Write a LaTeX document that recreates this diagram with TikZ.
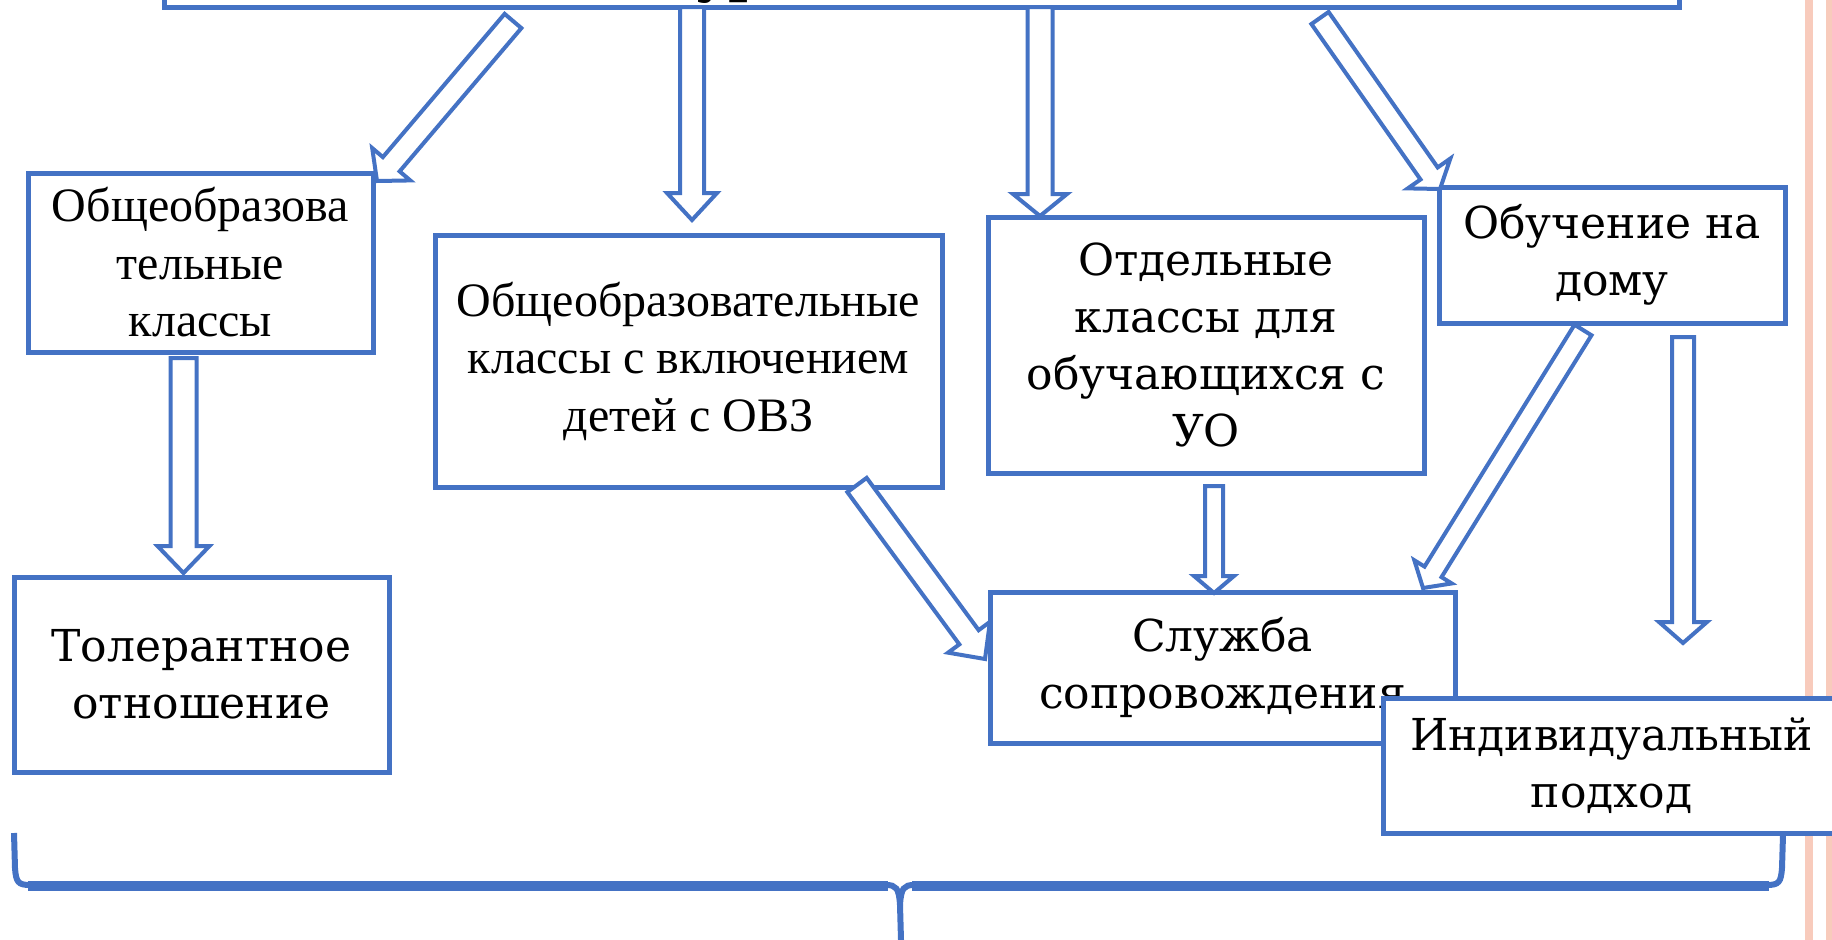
\documentclass[tikz,border=0pt]{standalone}
\usepackage{fontspec}
\setmainfont{DejaVu Serif}
\newfontfamily\timesf{Liberation Serif}
\usetikzlibrary{calc}
\definecolor{bblue}{HTML}{4472C4}
\definecolor{pinkst}{RGB}{248,203,188}
\tikzset{
  box/.style={draw=bblue, line width=5pt, fill=white, align=center, inner sep=0pt},
  arrowline/.style={draw=bblue, line width=4pt, fill=white, line join=miter},
  schtext/.style={font=\fontsize{44}{57}\selectfont},
  timestext/.style={font=\timesf\fontsize{48}{57.5}\selectfont},
  bracestyle/.style={draw=bblue, line width=6pt}
}
% #1 tail, #2 tip, #3 shaft half width, #4 head half width, #5 head length
\newcommand{\blockarr}[5]{%
  \coordinate (ba-h) at ($(#2)!#5!(#1)$);
  \draw[arrowline] ($(#1)!#3!90:(#2)$) -- ($(ba-h)!#3!-90:(#1)$) -- ($(ba-h)!#4!-90:(#1)$) -- (#2)
     -- ($(ba-h)!#4!90:(#1)$) -- ($(ba-h)!#3!90:(#1)$) -- ($(#1)!#3!-90:(#2)$) -- cycle;
}
\begin{document}
\begin{tikzpicture}[x=1pt,y=-1pt]
\useasboundingbox (0,0) rectangle (1832,940);
\clip (0,0) rectangle (1832,940);
% decorative stripes
\fill[pinkst] (1805,0) rectangle (1813,940);
\fill[pinkst] (1826,0) rectangle (1832,940);

% top box (cut off)
\node[box, minimum width=1515pt, minimum height=114pt] (top) at (921.5,-50) {};
\node[anchor=base west, inner sep=0pt, font=\bfseries\fontsize{54}{60}\selectfont] (ttl) at (694,-9) {ур};

% boxes
\node[box, timestext, minimum width=345pt, minimum height=179pt] (b1) at (200.5,262.5) {Общеобразова\\тельные\\классы};
\node[box, timestext, minimum width=507pt, minimum height=252pt] (b2) at (688.5,361) {Общеобразовательные\\классы с включением\\детей с ОВЗ};
\node[box, schtext, minimum width=436pt, minimum height=256pt] (b3) at (1206,345) {Отдельные\\классы для\\обучающихся с\\УО};
\node[box, schtext, minimum width=346pt, minimum height=136pt] (b4) at (1612,255) {Обучение на\\дому};
\node[box, schtext, minimum width=375pt, minimum height=195pt] (b5) at (201.5,674.5) {Толерантное\\отношение};
\node[box, schtext, minimum width=465pt, minimum height=151pt] (b6) at (1222.5,667.5) {Служба\\сопровождения};

% arrow end points
\coordinate (a1t) at (513,21);   \coordinate (a1h) at (377,181);
\coordinate (a2t) at (692,7);    \coordinate (a2h) at (692,220);
\coordinate (a3t) at (1040,7);   \coordinate (a3h) at (1040,216);
\coordinate (a4t) at (1320,18);  \coordinate (a4h) at (1440,189);
\coordinate (a5t) at (183.5,358);  \coordinate (a5h) at (183.5,573);
\coordinate (a6t) at (857,485);  \coordinate (a6h) at (985,659);
\coordinate (a7t) at (1214,486); \coordinate (a7h) at (1214,593);
\coordinate (a8t) at (1583,330); \coordinate (a8h) at (1423,588);
\coordinate (a9t) at (1683,337); \coordinate (a9h) at (1683,643);

\blockarr{a1t}{a1h}{11pt}{25pt}{22pt}
\blockarr{a2t}{a2h}{12pt}{25pt}{27pt}
\blockarr{a3t}{a3h}{12.5pt}{27pt}{22pt}
\blockarr{a4t}{a4h}{10.5pt}{26pt}{19pt}
\blockarr{a5t}{a5h}{13pt}{26pt}{27pt}
\blockarr{a6t}{a6h}{12pt}{26pt}{27pt}
\blockarr{a7t}{a7h}{9pt}{20pt}{17pt}
\blockarr{a8t}{a8h}{10pt}{22pt}{19pt}
\blockarr{a9t}{a9h}{11pt}{24pt}{21pt}

% last box on top
\node[box, schtext, minimum width=457pt, minimum height=135pt] (b7) at (1611.5,765.5) {Индивидуальный\\подход};

% brace
\coordinate (brl) at (14,833);
\coordinate (brr) at (1783,835);
\coordinate (brm) at (901,940);
\draw[bracestyle] (brl) -- (15,868) .. controls (16,882) and (18,885) .. (30,885) -- (886,885)
   .. controls (896,885) and (899,888) .. (900,905) -- (brm);
\draw[bracestyle] (brr) -- (1782,868) .. controls (1781,882) and (1779,885) .. (1767,885) -- (914,885)
   .. controls (904,885) and (901,888) .. (900,905);
\draw[draw=bblue, line width=10pt] (28,885.5) -- (888,885.5) (912,885.5) -- (1769,885.5);
\end{tikzpicture}
\end{document}
